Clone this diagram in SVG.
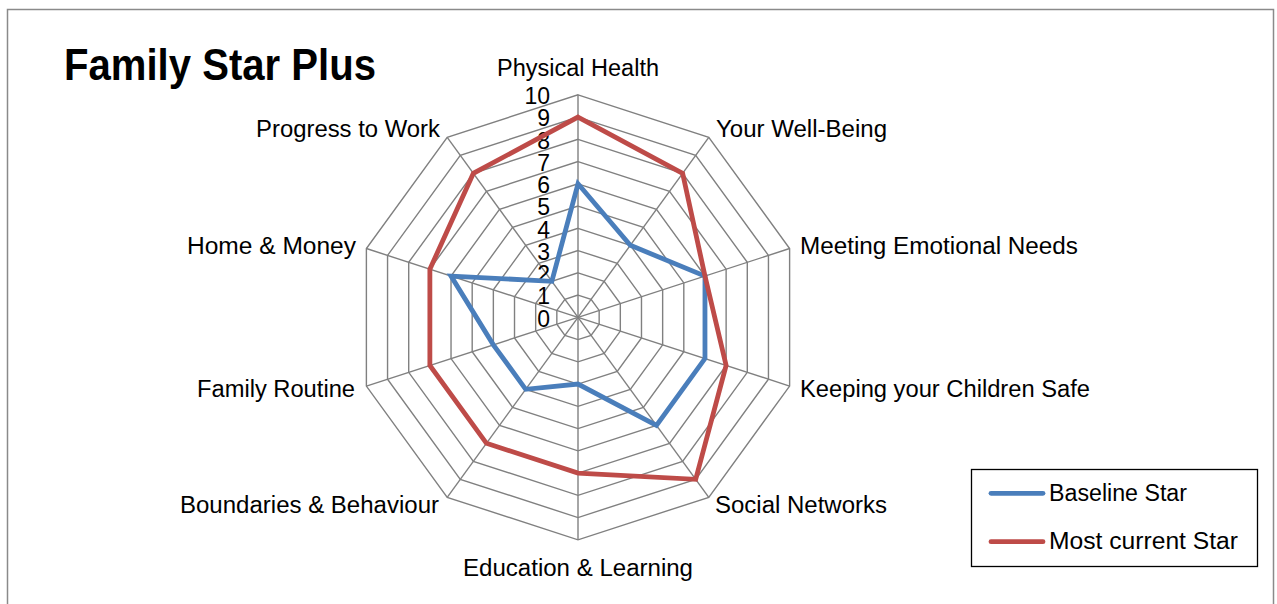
<svg xmlns="http://www.w3.org/2000/svg" xmlns:xlink="http://www.w3.org/1999/xlink" width="1277" height="604" viewBox="0 0 1277 604">
<style>
.lbl{font-family:"Liberation Sans",Arial,sans-serif;font-size:23px;fill:#000}
.num{font-family:"Liberation Sans",Arial,sans-serif;font-size:23px;fill:#000;text-anchor:end}
.grid{fill:none;stroke:#808080;stroke-width:1.4;vector-effect:non-scaling-stroke}
.spoke{stroke:#808080;stroke-width:1.4}
.base{fill:none;stroke:#4A7EBB;stroke-width:4.8;stroke-linejoin:miter}
.cur{fill:none;stroke:#BE4B48;stroke-width:4.8;stroke-linejoin:miter}
</style>
<defs>
<polygon id="dec" class="grid" points="0,-1 0.587785,-0.809017 0.951057,-0.309017 0.951057,0.309017 0.587785,0.809017 0,1 -0.587785,0.809017 -0.951057,0.309017 -0.951057,-0.309017 -0.587785,-0.809017"/>
</defs>
<rect x="0" y="0" width="1277" height="604" fill="#fff"/>
<rect x="7.5" y="9.5" width="1266" height="610" fill="#fff" stroke="#8a8a8a" stroke-width="1.5"/>
<g id="title"><text x="64" y="80" font-family="'Liberation Sans',Arial,sans-serif" font-weight="bold" font-size="45" textLength="312" lengthAdjust="spacingAndGlyphs">Family Star Plus</text></g>
<g id="grid">
<use xlink:href="#dec" transform="translate(578 317.3) scale(22.25)"/>
<use xlink:href="#dec" transform="translate(578 317.3) scale(44.5)"/>
<use xlink:href="#dec" transform="translate(578 317.3) scale(66.75)"/>
<use xlink:href="#dec" transform="translate(578 317.3) scale(89)"/>
<use xlink:href="#dec" transform="translate(578 317.3) scale(111.25)"/>
<use xlink:href="#dec" transform="translate(578 317.3) scale(133.5)"/>
<use xlink:href="#dec" transform="translate(578 317.3) scale(155.75)"/>
<use xlink:href="#dec" transform="translate(578 317.3) scale(178)"/>
<use xlink:href="#dec" transform="translate(578 317.3) scale(200.25)"/>
<use xlink:href="#dec" transform="translate(578 317.3) scale(222.5)"/>
<line class="spoke" x1="578" y1="317.3" x2="578" y2="94.8"/>
<line class="spoke" x1="578" y1="317.3" x2="708.78" y2="137.3"/>
<line class="spoke" x1="578" y1="317.3" x2="789.61" y2="248.54"/>
<line class="spoke" x1="578" y1="317.3" x2="789.61" y2="386.06"/>
<line class="spoke" x1="578" y1="317.3" x2="708.78" y2="497.3"/>
<line class="spoke" x1="578" y1="317.3" x2="578" y2="539.8"/>
<line class="spoke" x1="578" y1="317.3" x2="447.22" y2="497.3"/>
<line class="spoke" x1="578" y1="317.3" x2="366.39" y2="386.06"/>
<line class="spoke" x1="578" y1="317.3" x2="366.39" y2="248.54"/>
<line class="spoke" x1="578" y1="317.3" x2="447.22" y2="137.3"/>
</g>
<g id="axis-numbers">
<text class="num" x="550" y="326.5">0</text>
<text class="num" x="550" y="304.25">1</text>
<text class="num" x="550" y="282">2</text>
<text class="num" x="550" y="259.75">3</text>
<text class="num" x="550" y="237.5">4</text>
<text class="num" x="550" y="215.25">5</text>
<text class="num" x="550" y="193">6</text>
<text class="num" x="550" y="170.75">7</text>
<text class="num" x="550" y="148.5">8</text>
<text class="num" x="550" y="126.25">9</text>
<text class="num" x="550" y="104">10</text>
</g>
<g id="connectors">
<polygon id="baseline-star" class="base" points="578,183.8 630.31,245.3 704.97,276.05 704.97,358.55 656.47,425.3 578,384.05 525.69,389.3 493.36,344.8 451.03,276.05 551.84,281.3"/>
<polygon id="current-star" class="cur" points="578,117.05 682.63,173.3 704.97,276.05 726.13,365.43 695.7,479.3 578,473.05 486.45,443.3 429.87,365.43 429.87,269.17 473.37,173.3"/>
</g>
<g id="labels">
<g id="n-physical"><text class="lbl" x="497" y="76" textLength="162" lengthAdjust="spacingAndGlyphs">Physical Health</text></g>
<g id="n-wellbeing"><text class="lbl" x="716" y="137" textLength="171" lengthAdjust="spacingAndGlyphs">Your Well-Being</text></g>
<g id="n-emotional"><text class="lbl" x="800" y="254" textLength="278" lengthAdjust="spacingAndGlyphs">Meeting Emotional Needs</text></g>
<g id="n-safe"><text class="lbl" x="800" y="397" textLength="290" lengthAdjust="spacingAndGlyphs">Keeping your Children Safe</text></g>
<g id="n-social"><text class="lbl" x="715" y="513" textLength="172" lengthAdjust="spacingAndGlyphs">Social Networks</text></g>
<g id="n-education"><text class="lbl" x="463" y="576" textLength="230" lengthAdjust="spacingAndGlyphs">Education &amp; Learning</text></g>
<g id="n-boundaries"><text class="lbl" x="180" y="513" textLength="259" lengthAdjust="spacingAndGlyphs">Boundaries &amp; Behaviour</text></g>
<g id="n-routine"><text class="lbl" x="197" y="397" textLength="158" lengthAdjust="spacingAndGlyphs">Family Routine</text></g>
<g id="n-home"><text class="lbl" x="187" y="254" textLength="169" lengthAdjust="spacingAndGlyphs">Home &amp; Money</text></g>
<g id="n-progress"><text class="lbl" x="256" y="137" textLength="184" lengthAdjust="spacingAndGlyphs">Progress to Work</text></g>
</g>
<g id="legend">
<rect x="971.5" y="469.5" width="286" height="97" fill="#fff" stroke="#000" stroke-width="1.3"/>
<line x1="991" y1="493.3" x2="1043" y2="493.3" stroke="#4A7EBB" stroke-width="4.8" stroke-linecap="round"/>
<text class="lbl" x="1049" y="501" textLength="138" lengthAdjust="spacingAndGlyphs">Baseline Star</text>
<line x1="991" y1="541.7" x2="1043" y2="541.7" stroke="#BE4B48" stroke-width="4.8" stroke-linecap="round"/>
<text class="lbl" x="1049" y="549" textLength="189" lengthAdjust="spacingAndGlyphs">Most current Star</text>
</g>
</svg>
